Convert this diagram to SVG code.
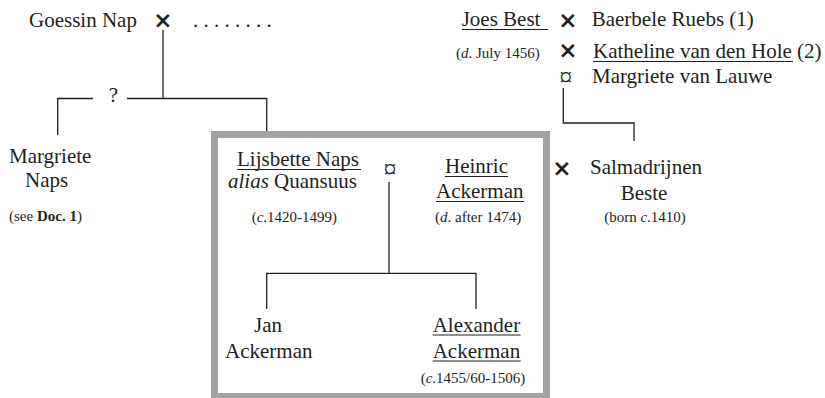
<svg xmlns="http://www.w3.org/2000/svg" width="825" height="398" viewBox="0 0 825 398">
  <style>
    text { font-family: "Liberation Serif", "Times New Roman", "DejaVu Serif", serif; fill: #231f20; }
    .n { font-size: 21px; }
    .s { font-size: 15px; }
    .m { font-family: "DejaVu Sans", "Liberation Sans", sans-serif; font-weight: bold; font-size: 23px; text-anchor: middle; }
    .o { font-size: 26px; text-anchor: middle; }
    .mid { text-anchor: middle; }
    .ln { fill: none; stroke: #231f20; stroke-width: 1.3; }
    .ul { stroke: #231f20; stroke-width: 1.2; }
    .box { fill: none; stroke: #a3a3a6; stroke-width: 7; }
  </style>

  <!-- family frame -->
  <rect class="box" x="214.5" y="134.5" width="332" height="262"/>

  <!-- connectors -->
  <g id="connectors">
    <path class="ln" d="M163 30 V98.5"/>
    <path class="ln" d="M57.7 135 V98.5 H93"/>
    <path class="ln" d="M127 98.5 H266.7 V131"/>
    <path class="ln" d="M563.3 88 V123 H634 V141"/>
    <path class="ln" d="M389 182 V273.3"/>
    <path class="ln" d="M266.7 309 V273.3 H476 V309"/>
    <text class="n mid" x="113.3" y="102">?</text>
  </g>

  <g id="goessin">
    <text class="n" x="29" y="27">Goessin Nap</text>
    <text class="m" x="163" y="28">×</text>
    <text class="n" x="193" y="27">. . . . . . . .</text>
  </g>

  <g id="joes">
    <text class="n" x="461.7" y="26">Joes Best</text>
    <line class="ul" x1="461.7" y1="29.5" x2="548" y2="29.5"/>
    <text class="s" x="456" y="58">(<tspan font-style="italic">d</tspan>. July 1456)</text>
  </g>

  <g id="baerbele">
    <text class="m" x="568" y="28">×</text>
    <text class="n" x="591.7" y="26">Baerbele Ruebs (1)</text>
  </g>

  <g id="katheline">
    <text class="m" x="568" y="57.5">×</text>
    <text class="n" x="593" y="58">Katheline van den Hole (2)</text>
    <line class="ul" x1="593" y1="61.5" x2="793" y2="61.5"/>
  </g>

  <g id="margriete-lauwe">
    <text class="o" x="565.7" y="86.4">¤</text>
    <text class="n" x="592" y="83">Margriete van Lauwe</text>
  </g>

  <g id="margriete-naps">
    <text class="n" x="9" y="163">Margriete</text>
    <text class="n" x="25" y="187">Naps</text>
    <text class="s" x="9" y="221">(see <tspan font-weight="bold">Doc. 1</tspan>)</text>
  </g>

  <g id="lijsbette">
    <text class="n" x="237" y="166">Lijsbette Naps</text>
    <line class="ul" x1="237" y1="169.5" x2="361" y2="169.5"/>
    <text class="n" x="228" y="188"><tspan font-style="italic">alias</tspan> Quansuus</text>
    <text class="s" x="251.7" y="221.5">(<tspan font-style="italic">c</tspan>.1420-1499)</text>
    <text class="o" x="390" y="178.2">¤</text>
  </g>

  <g id="heinric">
    <text class="n" x="445" y="173">Heinric</text>
    <line class="ul" x1="445" y1="176.5" x2="508" y2="176.5"/>
    <text class="n" x="436" y="198">Ackerman</text>
    <line class="ul" x1="436" y1="201.5" x2="524" y2="201.5"/>
    <text class="s" x="435" y="221.5">(<tspan font-style="italic">d</tspan>. after 1474)</text>
  </g>

  <g id="salmadrijnen">
    <text class="m" x="562" y="176">×</text>
    <text class="n" x="590" y="174">Salmadrijnen</text>
    <text class="n mid" x="644" y="200">Beste</text>
    <text class="s mid" x="645" y="221.5">(born <tspan font-style="italic">c</tspan>.1410)</text>
  </g>

  <g id="jan">
    <text class="n mid" x="268" y="331.7">Jan</text>
    <text class="n" x="225" y="358">Ackerman</text>
  </g>

  <g id="alexander">
    <text class="n" x="432.7" y="331.7">Alexander</text>
    <line class="ul" x1="432.7" y1="335" x2="520.7" y2="335"/>
    <text class="n" x="432.7" y="358">Ackerman</text>
    <line class="ul" x1="432.7" y1="361" x2="520.7" y2="361"/>
    <text class="s" x="420.7" y="383">(<tspan font-style="italic">c</tspan>.1455/60-1506)</text>
  </g>
</svg>
